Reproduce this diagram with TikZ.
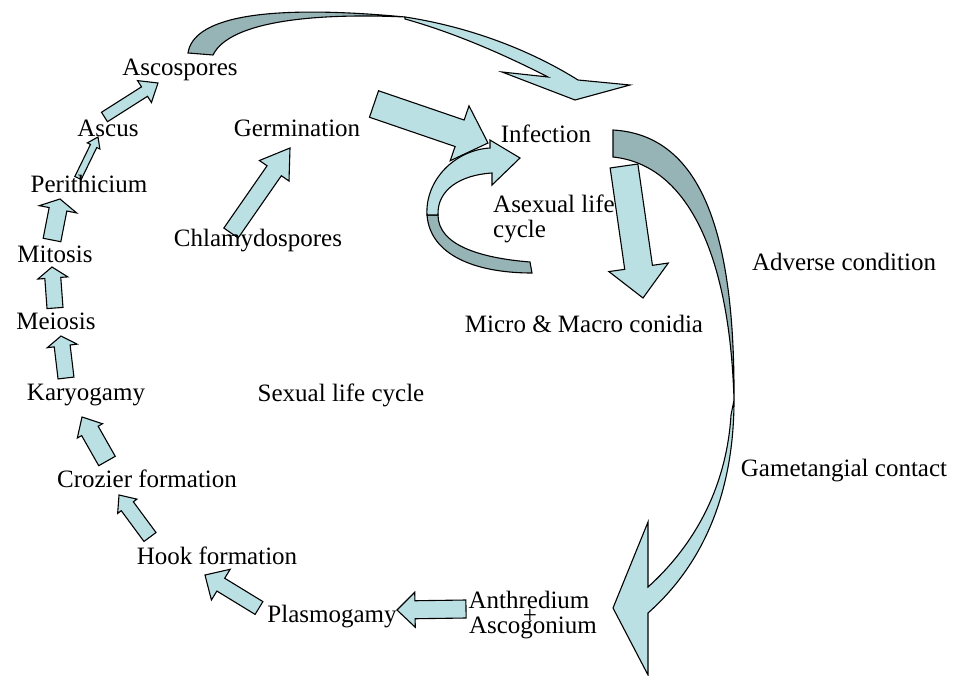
\documentclass[tikz,border=0pt]{standalone}
\usepackage{fontspec}
\setmainfont{Liberation Serif}
\usetikzlibrary{calc,backgrounds}
\definecolor{arrowfill}{RGB}{187,224,227}
\definecolor{arrowshade}{RGB}{150,179,182}
% block arrow: tail, tip, half shaft, half head, head length
\newcommand{\fatarrow}[5]{%
  \draw[blockarrow] let \p1=#1, \p2=#2 in
    ($(\p1)!#3pt!90:(\p2)$) -- ($(\p2)!#5pt!(\p1)!#3pt!90:(\p2)$)
    -- ($(\p2)!#5pt!(\p1)!#4pt!90:(\p2)$) -- (\p2)
    -- ($(\p2)!#5pt!(\p1)!#4pt!-90:(\p2)$) -- ($(\p2)!#5pt!(\p1)!#3pt!-90:(\p2)$)
    -- ($(\p1)!#3pt!-90:(\p2)$) -- cycle;}

\begin{document}
\begin{tikzpicture}[x=1pt,y=-1pt,
  lbl/.style={font=\fontsize{25}{25}\selectfont, inner sep=0pt, anchor=base},
  blockarrow/.style={draw=black, fill=arrowfill, line width=1.1pt, line join=miter},
  ribbon/.style={draw=black, fill=arrowshade, line width=1.1pt, line join=miter}]
  \useasboundingbox (0,0) rectangle (963,676);

  % sexual cycle
  \node[lbl] (ascospores) at (180,76) {Ascospores};
  \node[lbl] (ascus) at (108,137) {Ascus};
  \node[lbl] (perithicium) at (89,193) {Perithicium};
  \node[lbl] (mitosis) at (55,262) {Mitosis};
  \node[lbl] (meiosis) at (56,329) {Meiosis};
  \node[lbl] (karyogamy) at (86,400) {Karyogamy};
  \node[lbl] (crozier) at (147,487) {Crozier formation};
  \node[lbl] (hook) at (217,564) {Hook formation};
  \node[lbl] (plasmogamy) at (332,622) {Plasmogamy};
  \node[lbl] (anthredium) at (529,608) {Anthredium};
  \node[lbl] (plus) at (530,623) {+};
  \node[lbl] (ascogonium) at (533,633) {Ascogonium};
  \node[lbl] (sexual) at (341,401) {Sexual life cycle};
  \node[lbl] (gametangial) at (844,476) {Gametangial contact};

  % asexual cycle
  \node[lbl] (germination) at (297,137) {Germination};
  \node[lbl] (chlamydospores) at (258,247) {Chlamydospores};
  \node[lbl] (infection) at (546,143) {Infection};
  \node[lbl, align=left, anchor=north west] (asexual) at (493,195) {Asexual life\\cycle};
  \node[lbl] (conidia) at (584,332) {Micro \& Macro conidia};
  \node[lbl] (adverse) at (844,270) {Adverse condition};

  \begin{scope}[on background layer]
    \fatarrow{($(ascus.base)+(-3.5,-20)$)}{($(ascospores.base)+(-22,7)$)}{5.6}{13}{16}
    \fatarrow{($(perithicium.base)+(-11,-15)$)}{($(ascus.base)+(-10,0)$)}{3.5}{7}{10}
    \fatarrow{($(mitosis.base)+(-3,-22)$)}{($(perithicium.base)+(-29,6)$)}{9}{19}{10.5}
    \fatarrow{($(meiosis.base)+(-1,-21)$)}{($(mitosis.base)+(-3,5)$)}{8}{15}{11}
    \fatarrow{($(karyogamy.base)+(-20,-22)$)}{($(meiosis.base)+(5,7)$)}{8}{15}{10}
    \fatarrow{($(crozier.base)+(-40,-26)$)}{($(karyogamy.base)+(-4,17)$)}{9.5}{14.5}{16}
    \fatarrow{($(hook.base)+(-67,-27)$)}{($(crozier.base)+(-28,8)$)}{7.5}{12}{14}
    \fatarrow{($(plasmogamy.base)+(-73,-14)$)}{($(hook.base)+(-12,11)$)}{7.5}{18}{18.5}
    \fatarrow{($(anthredium.base)+(-63,1)$)}{($(plasmogamy.base)+(65,-12)$)}{9}{17.5}{18}
    \fatarrow{($(chlamydospores.base)+(-27,-14)$)}{($(germination.base)+(-7,11)$)}{8.7}{18}{27.7}
    \fatarrow{($(germination.base)+(77,-33)$)}{($(infection.base)+(-58,0)$)}{14}{29}{30}
    \fatarrow{($(infection.base)+(78,23)$)}{($(conidia.base)+(59,-34)$)}{14}{30}{31}

    % ascospores -> infection
    \draw[ribbon] (188,53) .. controls (193,20) and (255,3) .. (405,17)
      .. controls (320,13) and (230,20) .. (213,55) -- cycle;
    \draw[blockarrow] (405,17) .. controls (470,27) and (530,50) .. (578,80)
      -- (630,85) -- (575,100) -- (502,72) -- (548,77)
      .. controls (505,55) and (455,33) .. (405,19) -- cycle;

    % adverse condition
    \draw[ribbon] (613,130) .. controls (700,135) and (735,230) .. (734,400)
      .. controls (730,260) and (690,165) .. (613,157) -- cycle;
    \draw[blockarrow] (734,400) .. controls (734,485) and (708,560) .. (648,613)
      -- (648,675) -- (613,608) -- (648,522) -- (648,587)
      .. controls (700,540) and (727,480) .. (731,415) -- cycle;

    % asexual loop
    \draw[ribbon] (427,215) .. controls (430,255) and (475,273) .. (532,273)
      -- (530,262) .. controls (480,258) and (438,245) .. (438,215) -- cycle;
    \draw[blockarrow] (490,148) .. controls (455,150) and (425,180) .. (427,215)
      -- (438,215) .. controls (437,190) and (460,175) .. (492,173)
      -- (492,185) -- (520,158) -- (490,140) -- cycle;
  \end{scope}
\end{tikzpicture}
\end{document}
